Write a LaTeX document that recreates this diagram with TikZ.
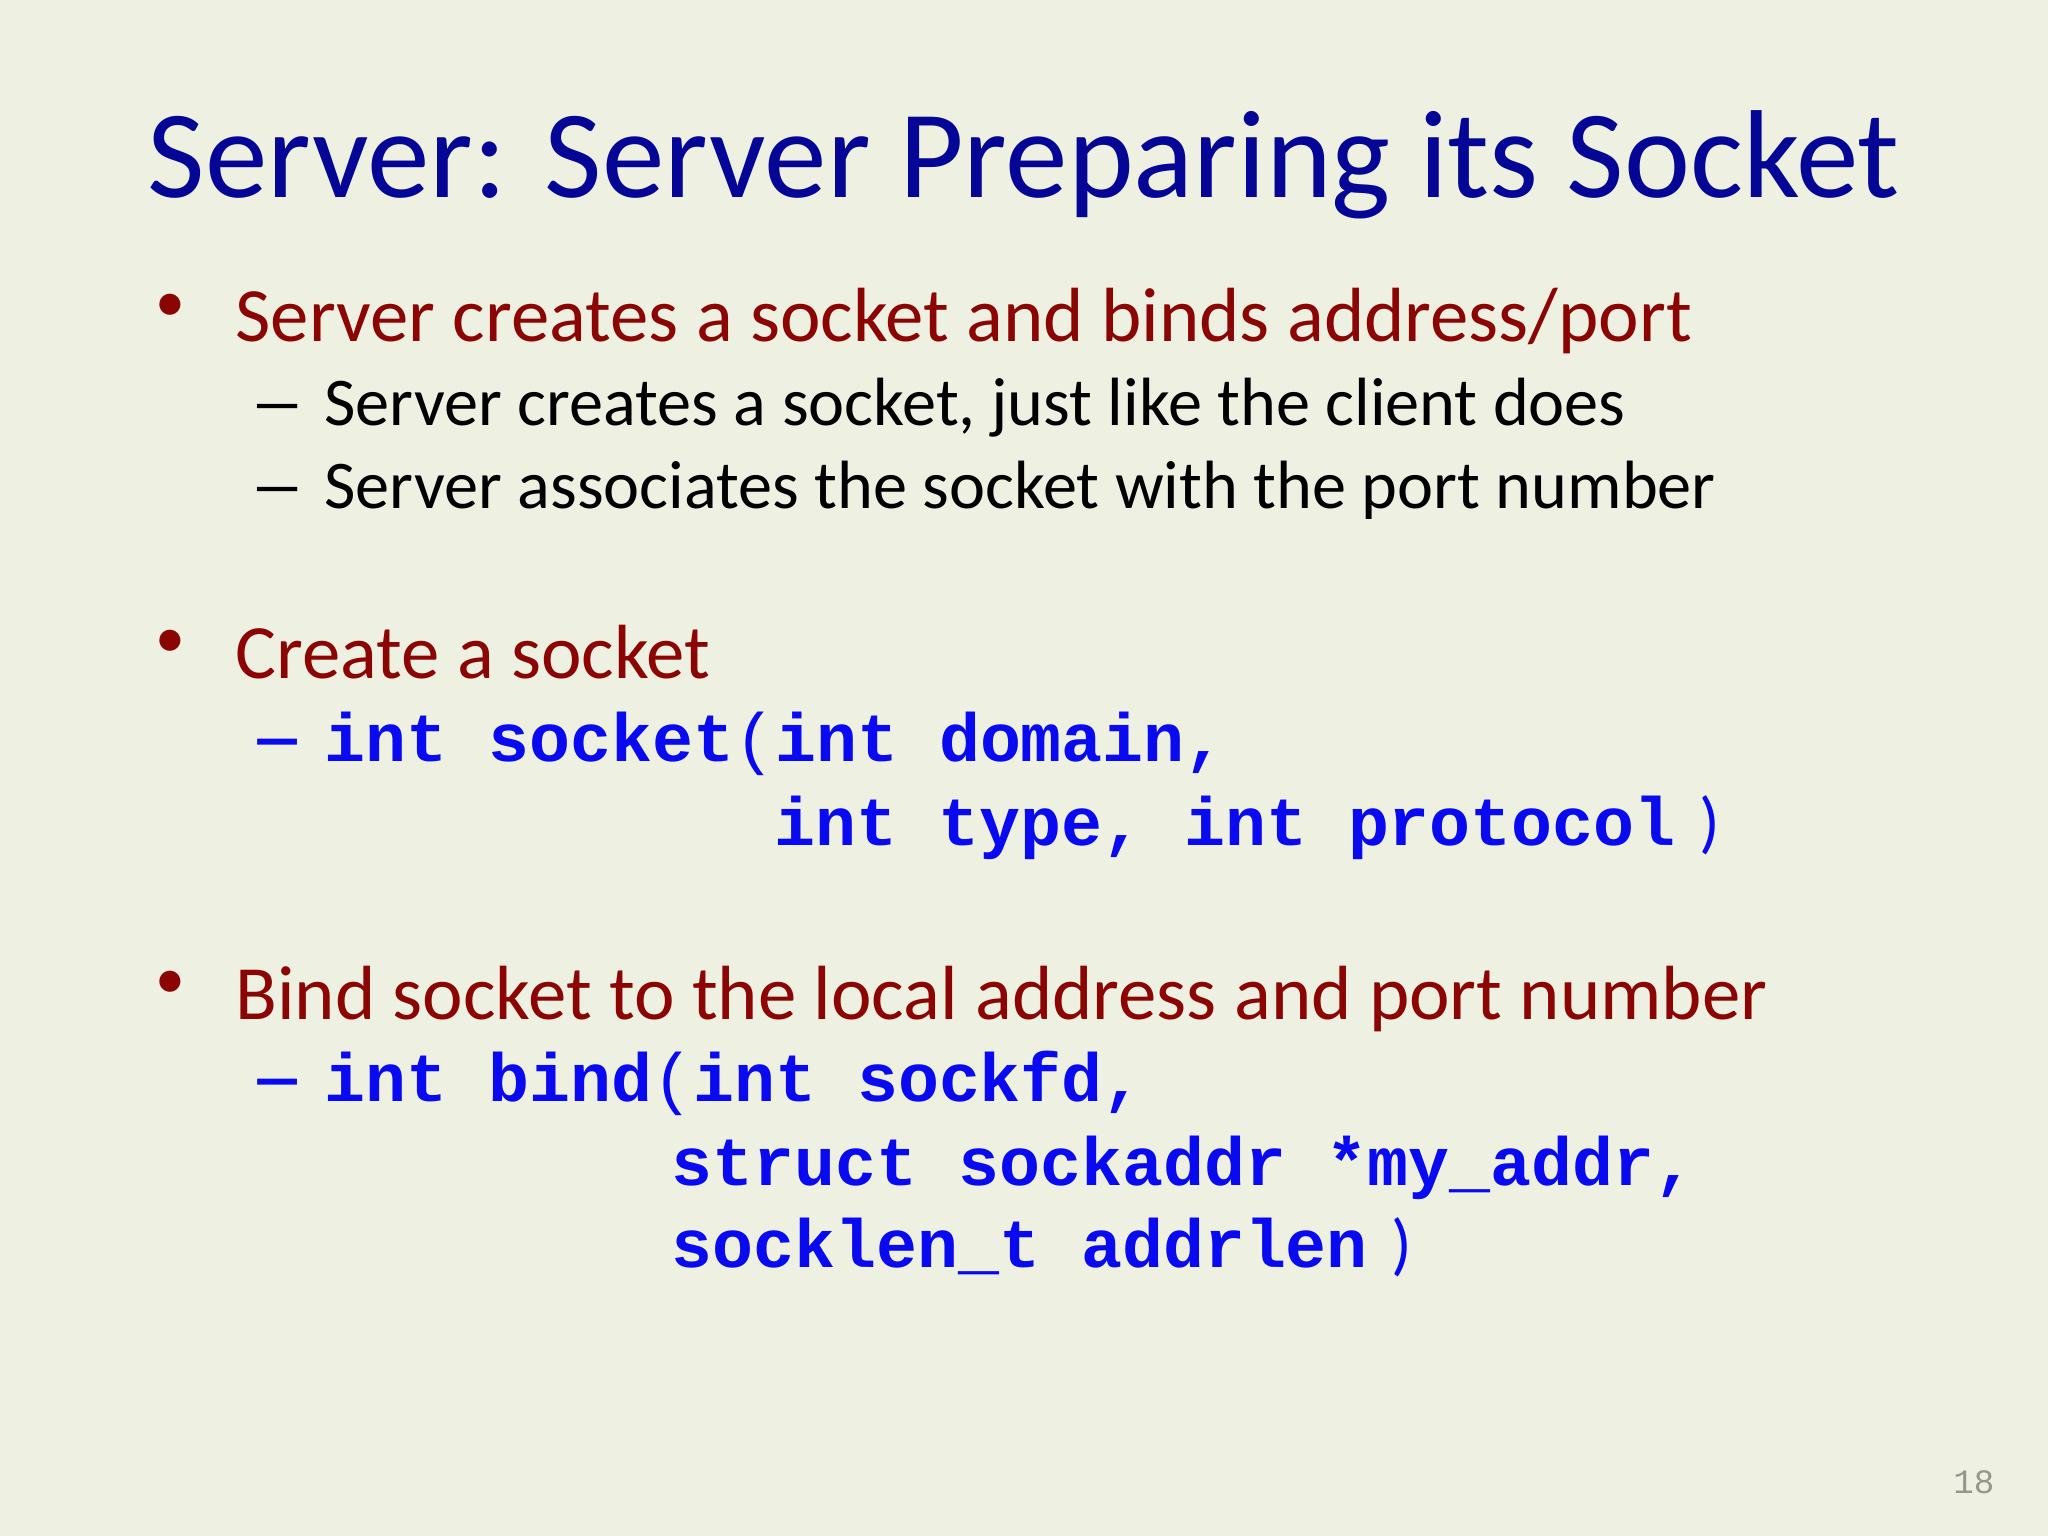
\documentclass[tikz,border=0pt]{standalone}
\usepackage{fontspec}
\setmainfont{Carlito}
\newfontfamily\codefont{Liberation Mono}
\definecolor{bgcol}{RGB}{238,241,226}
\definecolor{titleblue}{RGB}{5,5,150}
\definecolor{bulletred}{RGB}{139,5,5}
\definecolor{codeblue}{RGB}{10,10,240}
\definecolor{pagegray}{RGB}{150,150,140}
\tikzset{
  titletext/.style={anchor=base west, inner sep=0pt, text=titleblue, font=\fontsize{44}{48}\selectfont},
  lvlone/.style={anchor=base west, inner sep=0pt, text=bulletred, font=\fontsize{27}{32}\selectfont},
  lvltwo/.style={anchor=base west, inner sep=0pt, text=black, font=\fontsize{24}{28}\selectfont},
  codetext/.style={anchor=base west, inner sep=0pt, text=codeblue, font=\codefont\bfseries\fontsize{24}{28}\selectfont},
  bulletmark/.style={anchor=center, inner sep=0pt, text=bulletred, font=\fontsize{21}{24}\selectfont},
  dashmark/.style={anchor=base west, inner sep=0pt, font=\fontsize{24}{28}\selectfont},
  codedash/.style={dashmark, text=codeblue, font=\bfseries\fontsize{24}{28}\selectfont},
}
\newcommand{\cp}[1]{{\mdseries #1}}
\newcommand{\cpc}[1]{{\fontspec{Carlito}\mdseries #1}}
\newcommand{\longdash}{\scalebox{1.65}[1]{–}}
\begin{document}
\begin{tikzpicture}[x=0.3515625pt,y=-0.3515625pt]
\fill[bgcol] (0,0) rectangle (2048,1536);
\useasboundingbox (0,0) rectangle (2048,1536);
\node[titletext] (title) at (147,198) {Server: Server Preparing its Socket};

\node[bulletmark] (b1) at (170,308) {•};
\node[lvlone] (t1) at (235,342) {Server creates a socket and binds address/port};
\node[dashmark] (d11) at (249,426) {\longdash};
\node[lvltwo] (t11) at (324,426) {Server creates a socket, just like the client does};
\node[dashmark] (d12) at (249,509) {\longdash};
\node[lvltwo] (t12) at (324,509) {Server associates the socket with the port number};

\node[bulletmark] (b2) at (170,644) {•};
\node[lvlone] (t2) at (235,678) {Create a socket};
\node[codedash] (d21) at (249,761) {\longdash};
\node[codetext] (c1) at (324,761) {int socket\cp{(}int domain,};
\node[codetext] (c2) at (774,845) {int type, int protocol\cpc{\hspace{0.35em})}};

\node[bulletmark] (b3) at (170,985) {•};
\node[lvlone] (t3) at (235,1019) {Bind socket to the local address and port number};
\node[codedash] (d31) at (249,1101) {\longdash};
\node[codetext] (c3) at (324,1101) {int bind\cp{(}int sockfd,};
\node[codetext] (c4) at (671,1185) {struct sockaddr *my\_addr,};
\node[codetext] (c5) at (671,1267) {socklen\_t addrlen\cpc{\hspace{0.35em})}};

\node[anchor=base east, inner sep=0pt, text=pagegray, font=\fontspec{Liberation Mono}\fontsize{12}{14}\selectfont] (pg) at (1995,1493) {18};
\end{tikzpicture}
\end{document}
